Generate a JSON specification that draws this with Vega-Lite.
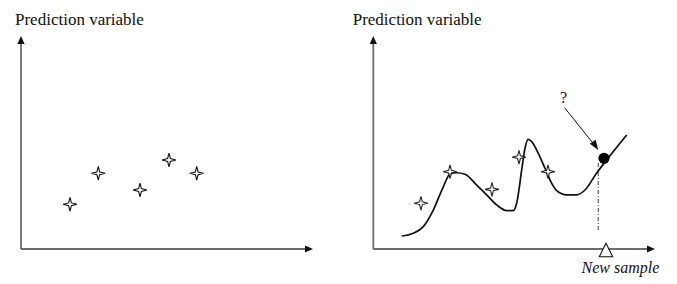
{
  "$schema": "https://vega.github.io/schema/vega-lite/v6.json",
  "padding": 0,
  "spacing": 0,
  "background": "white",
  "config": {
    "view": {"stroke": null},
    "font": "Liberation Serif",
    "text": {"font": "Liberation Serif", "color": "#111"}
  },
  "datasets": {
    "leftSamples": [
      {"x": 16.78, "y": 20.99},
      {"x": 26.47, "y": 35.54},
      {"x": 40.75, "y": 27.70},
      {"x": 50.68, "y": 41.78},
      {"x": 60.17, "y": 35.54}
    ],
    "rightSamples": [
      {"x": 16.93, "y": 21.5},
      {"x": 27.23, "y": 36.3},
      {"x": 42.13, "y": 28.0},
      {"x": 51.72, "y": 43.1},
      {"x": 62.02, "y": 36.3}
    ],
    "fit": [
      {"x": 10.08, "y": 6.1},
      {"x": 14.20, "y": 7.4},
      {"x": 17.75, "y": 10.5},
      {"x": 21.30, "y": 18.3},
      {"x": 24.85, "y": 29.2},
      {"x": 27.23, "y": 35.2},
      {"x": 29.61, "y": 35.8},
      {"x": 32.55, "y": 35.1},
      {"x": 36.71, "y": 30.0},
      {"x": 40.26, "y": 25.4},
      {"x": 43.81, "y": 20.7},
      {"x": 47.36, "y": 18.0},
      {"x": 49.70, "y": 18.0},
      {"x": 50.91, "y": 21.6},
      {"x": 52.68, "y": 37.1},
      {"x": 53.85, "y": 47.3},
      {"x": 55.02, "y": 51.5},
      {"x": 56.23, "y": 50.4},
      {"x": 58.57, "y": 44.9},
      {"x": 60.95, "y": 37.9},
      {"x": 63.33, "y": 30.8},
      {"x": 65.10, "y": 27.4},
      {"x": 68.65, "y": 25.4},
      {"x": 72.20, "y": 25.4},
      {"x": 75.15, "y": 27.7},
      {"x": 79.30, "y": 35.7},
      {"x": 82.85, "y": 41.8},
      {"x": 89.95, "y": 53.5}
    ],
    "axisLines": [
      {"x": 0, "y": 0, "x2": 0, "y2": 97},
      {"x": 0, "y": 0, "x2": 97.5, "y2": 0}
    ],
    "axisTips": [
      {"x": 0, "y": 100, "dir": 0},
      {"x": 100, "y": 0, "dir": 90}
    ]
  },
  "hconcat": [
    {
      "width": 338,
      "height": 284,
      "encoding": {
        "x": {"field": "x", "type": "quantitative", "axis": null,
              "scale": {"domain": [-7.19, 108.56], "nice": false, "zero": false}},
        "y": {"field": "y", "type": "quantitative", "axis": null,
              "scale": {"domain": [-16.43, 116.9], "nice": false, "zero": false}}
      },
      "layer": [
        {
          "data": {"name": "axisLines"},
          "mark": {"type": "rule", "stroke": "#6e6e6e", "strokeWidth": 1.8},
          "encoding": {"x2": {"field": "x2"}, "y2": {"field": "y2"}}
        },
        {
          "data": {"name": "axisTips"},
          "mark": {"type": "point", "shape": "M0,0L-0.45,1L0.45,1Z", "filled": true,
                   "fill": "#111", "stroke": null, "size": 256, "opacity": 1},
          "encoding": {"angle": {"field": "dir", "type": "quantitative", "scale": null}}
        },
        {
          "data": {"name": "leftSamples"},
          "mark": {"type": "point", "shape": "M0,-1L0.2,-0.2L1,0L0.2,0.2L0,1L-0.2,0.2L-1,0L-0.2,-0.2Z",
                   "filled": true, "fill": "white", "stroke": "#111", "strokeWidth": 1.1,
                   "size": 190, "opacity": 1}
        },
        {
          "data": {"values": [{"x": -2.05, "y": 105.16, "label": "Prediction variable"}]},
          "mark": {"type": "text", "align": "left", "baseline": "alphabetic", "fontSize": 17,
                   "font": "Liberation Serif, Times New Roman, DejaVu Serif, serif", "color": "#111"},
          "encoding": {"text": {"field": "label"}}
        }
      ]
    },
    {
      "width": 339,
      "height": 284,
      "encoding": {
        "x": {"field": "x", "type": "quantitative", "axis": null,
              "scale": {"domain": [-12.53, 107.81], "nice": false, "zero": false}},
        "y": {"field": "y", "type": "quantitative", "axis": null,
              "scale": {"domain": [-16.43, 116.9], "nice": false, "zero": false}}
      },
      "layer": [
        {
          "data": {"name": "axisLines"},
          "mark": {"type": "rule", "stroke": "#6e6e6e", "strokeWidth": 1.8},
          "encoding": {"x2": {"field": "x2"}, "y2": {"field": "y2"}}
        },
        {
          "data": {"name": "axisTips"},
          "mark": {"type": "point", "shape": "M0,0L-0.45,1L0.45,1Z", "filled": true,
                   "fill": "#111", "stroke": null, "size": 256, "opacity": 1},
          "encoding": {"angle": {"field": "dir", "type": "quantitative", "scale": null}}
        },
        {
          "data": {"values": [{"x": 79.87, "y": 40.38, "x2": 79.87, "y2": 8.45}]},
          "mark": {"type": "rule", "stroke": "#666", "strokeWidth": 1.2, "strokeDash": [4, 2, 1, 2]},
          "encoding": {"x2": {"field": "x2"}, "y2": {"field": "y2"}}
        },
        {
          "data": {"name": "fit"},
          "mark": {"type": "line", "interpolate": "monotone", "stroke": "#111", "strokeWidth": 1.7},
          "encoding": {"order": {"field": "x", "type": "quantitative"}}
        },
        {
          "data": {"name": "rightSamples"},
          "mark": {"type": "point", "shape": "M0,-1L0.2,-0.2L1,0L0.2,0.2L0,1L-0.2,0.2L-1,0L-0.2,-0.2Z",
                   "filled": true, "fill": "white", "stroke": "#111", "strokeWidth": 1.1,
                   "size": 190, "opacity": 0.9}
        },
        {
          "data": {"values": [{"x": 81.9, "y": 42.58}]},
          "mark": {"type": "point", "shape": "circle", "filled": true, "fill": "#000",
                   "stroke": null, "size": 125, "opacity": 1}
        },
        {
          "data": {"values": [{"x": 82.6, "y": -0.47}]},
          "mark": {"type": "point", "shape": "M0,-1L1,1L-1,1Z", "filled": true, "fill": "white",
                   "stroke": "#111", "strokeWidth": 1.1, "size": 180, "opacity": 1}
        },
        {
          "data": {"values": [{"x": 67.9, "y": 66.34, "x2": 79.0, "y2": 48.0}]},
          "mark": {"type": "rule", "stroke": "#111", "strokeWidth": 1},
          "encoding": {"x2": {"field": "x2"}, "y2": {"field": "y2"}}
        },
        {
          "data": {"values": [{"x": 79.87, "y": 46.48, "dir": 146.2}]},
          "mark": {"type": "point", "shape": "M0,0L-0.35,1L0.35,1Z", "filled": true,
                   "fill": "#111", "stroke": null, "size": 400, "opacity": 1},
          "encoding": {"angle": {"field": "dir", "type": "quantitative", "scale": null}}
        },
        {
          "data": {"values": [{"x": 67.55, "y": 70.75, "label": "?"}]},
          "mark": {"type": "text", "align": "center", "baseline": "middle", "fontSize": 16,
                   "font": "Liberation Serif, Times New Roman, DejaVu Serif, serif", "color": "#111"},
          "encoding": {"text": {"field": "label"}}
        },
        {
          "data": {"values": [{"x": -7.31, "y": 105.16, "label": "Prediction variable"}]},
          "mark": {"type": "text", "align": "left", "baseline": "alphabetic", "fontSize": 17,
                   "font": "Liberation Serif, Times New Roman, DejaVu Serif, serif", "color": "#111"},
          "encoding": {"text": {"field": "label"}}
        },
        {
          "data": {"values": [{"x": 87.7, "y": -11.27, "label": "New sample"}]},
          "mark": {"type": "text", "align": "center", "baseline": "alphabetic", "fontSize": 16,
                   "fontStyle": "italic",
                   "font": "Liberation Serif, Times New Roman, DejaVu Serif, serif", "color": "#111"},
          "encoding": {"text": {"field": "label"}}
        }
      ]
    }
  ]
}
